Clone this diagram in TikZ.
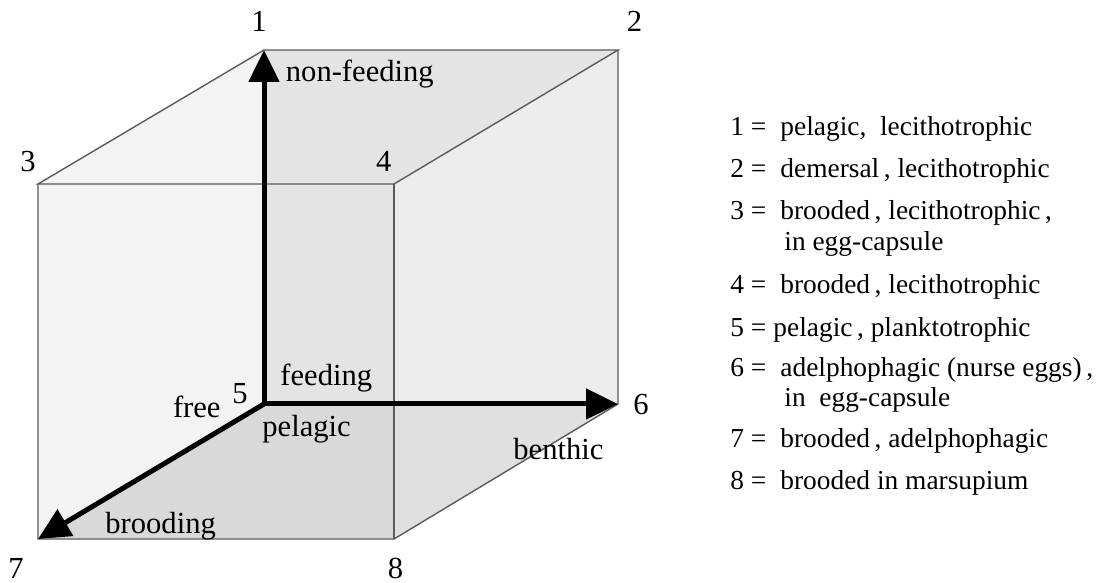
\documentclass[tikz,border=0pt]{standalone}
\usepackage{fontspec}
\setmainfont{Liberation Serif}
\usetikzlibrary{arrows.meta}
\definecolor{cleft}{RGB}{243,243,243}
\definecolor{cback}{RGB}{228,228,228}
\definecolor{cright}{RGB}{236,236,236}
\definecolor{cbottom}{RGB}{217,217,217}
\definecolor{cbr}{RGB}{224,224,224}
\definecolor{cedge}{RGB}{90,90,90}
\begin{document}
\begin{tikzpicture}[x=0.5pt,y=-0.5pt,
  edge/.style={draw=cedge,line width=0.7pt},
  axis/.style={draw=black,line width=2.5pt,-{Triangle[length=16pt,width=15pt]}},
  lbl/.style={inner sep=0pt,anchor=base,font=\fontsize{15.3}{18}\selectfont},
  lblw/.style={inner sep=0pt,anchor=base west,font=\fontsize{15.3}{18}\selectfont},
  leg/.style={inner sep=0pt,anchor=base west,font=\fontsize{13.7}{16}\selectfont}]
\useasboundingbox (0,0) rectangle (1100,583);
% vertices
\coordinate (v1) at (264,50);
\coordinate (v2) at (618,50);
\coordinate (v3) at (38,184);
\coordinate (v4) at (394,184);
\coordinate (v5) at (264,404);
\coordinate (v6) at (618,404);
\coordinate (v7) at (38,539);
\coordinate (v8) at (394,539);
\coordinate (m) at (394,404);
% faces
\fill[cback] (v1) -- (v2) -- (v6) -- (v5) -- cycle;
\fill[cleft] (v3) -- (v1) -- (v5) -- (v7) -- cycle;
\fill[cright] (v4) -- (v2) -- (v6) -- (v8) -- cycle;
\fill[cbottom] (v5) -- (v6) -- (v8) -- (v7) -- cycle;
\fill[cbr] (m) -- (v6) -- (v8) -- cycle;
% edges
\draw[edge] (v3) -- (v1) -- (v2) -- (v4) -- cycle;
\draw[edge] (v3) -- (v7) -- (v8) -- (v6) -- (v2);
\draw[edge] (v4) -- (v8);
% axes
\draw[axis] (v5) -- (v1);
\draw[axis] (v5) -- (v6);
\draw[axis] (v5) -- (v7);
% vertex labels
\node[lbl] (n1) at (259,32) {1};
\node[lbl] (n2) at (634.5,32) {2};
\node[lbl] (n3) at (28,172) {3};
\node[lbl] (n4) at (383.7,172) {4};
\node[lbl] (n5) at (240,403) {5};
\node[lbl] (n6) at (641,415) {6};
\node[lbl] (n7) at (16,578) {7};
\node[lbl] (n8) at (395.5,578) {8};
% axis labels
\node[lblw] (tnf) at (285.5,82) {non-feeding};
\node[lblw] (tfe) at (280,386) {feeding};
\node[lblw] (tfr) at (172.6,417) {free};
\node[lblw] (tpe) at (262,437) {pelagic};
\node[lblw] (tbe) at (513,459) {benthic};
\node[lblw] (tbr) at (105,533) {brooding};
% legend
\node[leg] (k1) at (730,136) {1 =};
\node[leg] (d1) at (780,136) {pelagic,\ \ lecithotrophic};
\node[leg] (k2) at (730,178) {2 =};
\node[leg] (d2) at (780,178) {demersal\,, lecithotrophic};
\node[leg] (k3) at (730,220) {3 =};
\node[leg] (d3) at (780,220) {brooded\,, lecithotrophic\,,};
\node[leg] (d3b) at (784,251) {in egg-capsule};
\node[leg] (k4) at (730,293) {4 =};
\node[leg] (d4) at (780,293) {brooded\,, lecithotrophic};
\node[leg] (k5) at (730,336) {5 =};
\node[leg] (d5) at (773,336) {pelagic\,, planktotrophic};
\node[leg] (k6) at (730,377) {6 =};
\node[leg] (d6) at (780,377) {adelphophagic (nurse eggs)\,,};
\node[leg] (d6b) at (784,407) {in\ \ egg-capsule};
\node[leg] (k7) at (730,448) {7 =};
\node[leg] (d7) at (780,448) {brooded\,, adelphophagic};
\node[leg] (k8) at (730,489) {8 =};
\node[leg] (d8) at (780,489) {brooded in marsupium};
\end{tikzpicture}
\end{document}
